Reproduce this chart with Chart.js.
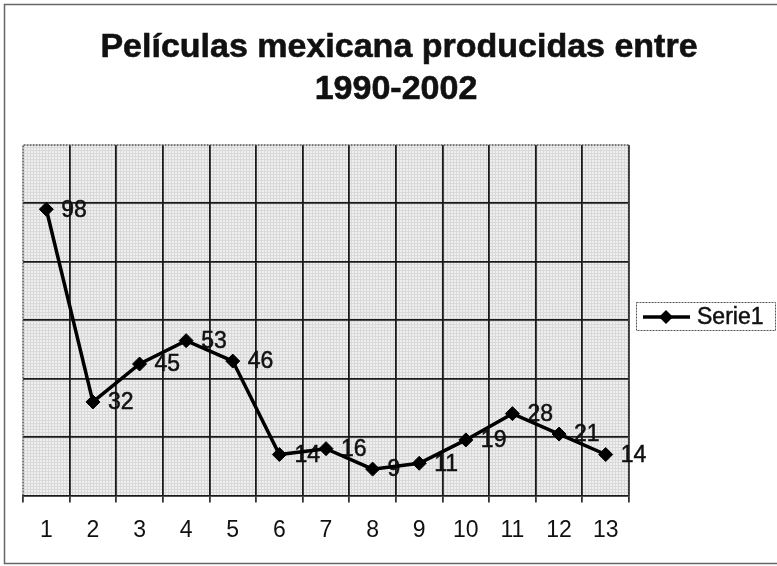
<!DOCTYPE html>
<html>
<head>
<meta charset="utf-8">
<script src="https://cdn.jsdelivr.net/npm/chart.js@4.4.1/dist/chart.umd.min.js"></script>
<style>
  html, body { margin: 0; padding: 0; background: #fff; }
  canvas { display: block; }
</style>
</head>
<body>
<canvas id="c" width="777" height="566"></canvas>
<script>
// Chart content
const titleLines = ['Películas mexicana producidas entre', '1990-2002'];
const categories = ['1', '2', '3', '4', '5', '6', '7', '8', '9', '10', '11', '12', '13'];
const seriesName = 'Serie1';
const seriesValues = [98, 32, 45, 53, 46, 14, 16, 9, 11, 19, 28, 21, 14];
const yMin = 0;
const yMax = 120;
const yStep = 20;

const FONT = "'Liberation Sans', Arial, sans-serif";

// Fine gray texture for the plotting area
function makePattern(ctx) {
  const tile = document.createElement('canvas');
  tile.width = 3; tile.height = 3;
  const t = tile.getContext('2d');
  t.fillStyle = '#efefef';
  t.fillRect(0, 0, 3, 3);
  t.fillStyle = '#d9d9d9';
  t.fillRect(0, 0, 3, 1);
  t.fillRect(0, 0, 1, 3);
  return ctx.createPattern(tile, 'repeat');
}

const backgroundPlugin = {
  id: 'plotBackground',
  beforeDraw(chart) {
    const { ctx, chartArea: a } = chart;
    ctx.save();
    ctx.fillStyle = '#ffffff';
    ctx.fillRect(0, 0, chart.width, chart.height);
    ctx.fillStyle = makePattern(ctx);
    ctx.fillRect(a.left, a.top, a.right - a.left, a.bottom - a.top);
    ctx.restore();
  },
  beforeDatasetsDraw(chart) {
    const { ctx, chartArea: a } = chart;
    // dotted frame round the plotting area
    ctx.save();
    ctx.strokeStyle = '#555';
    ctx.lineWidth = 1.5;
    ctx.setLineDash([2, 1]);
    ctx.beginPath();
    ctx.moveTo(a.left, a.bottom);
    ctx.lineTo(a.left, a.top);
    ctx.lineTo(a.right, a.top);
    ctx.lineTo(a.right, a.bottom);
    ctx.stroke();
    ctx.restore();
  }
};

// Value labels sit to the right of each marker, under the line
const valueLabelPlugin = {
  id: 'valueLabels',
  beforeDatasetsDraw(chart) {
    const { ctx } = chart;
    ctx.save();
    ctx.font = '23px ' + FONT;
    ctx.fillStyle = '#111';
    ctx.strokeStyle = '#111';
    ctx.lineWidth = 0.5;
    ctx.textAlign = 'left';
    ctx.textBaseline = 'middle';
    chart.data.datasets.forEach((ds, di) => {
      const meta = chart.getDatasetMeta(di);
      meta.data.forEach((pt, i) => {
        const s = String(ds.data[i]);
        ctx.fillText(s, pt.x + 15, pt.y + 1);
        ctx.strokeText(s, pt.x + 15, pt.y + 1);
      });
    });
    ctx.restore();
  }
};

// Title, legend box and outer frame
const decorPlugin = {
  id: 'decor',
  afterDraw(chart) {
    const { ctx } = chart;
    ctx.save();
    // outer frame
    ctx.strokeStyle = '#666';
    ctx.lineWidth = 1.5;
    ctx.beginPath();
    ctx.moveTo(790, 4.5);
    ctx.lineTo(4.5, 4.5);
    ctx.lineTo(4.5, 563.5);
    ctx.lineTo(790, 563.5);
    ctx.stroke();

    // title
    ctx.fillStyle = '#111';
    ctx.strokeStyle = '#111';
    ctx.lineWidth = 0.6;
    ctx.font = 'bold 34px ' + FONT;
    ctx.textAlign = 'center';
    ctx.textBaseline = 'alphabetic';
    ctx.fillText(titleLines[0], 399, 57);
    ctx.strokeText(titleLines[0], 399, 57);
    ctx.fillText(titleLines[1], 396, 99);
    ctx.strokeText(titleLines[1], 396, 99);

    // legend
    const ds = chart.data.datasets[0];
    const lx = 636, ly = 302, lw = 139, lh = 28;
    ctx.fillStyle = '#fff';
    ctx.fillRect(lx, ly, lw, lh);
    ctx.strokeStyle = '#555';
    ctx.lineWidth = 1;
    ctx.setLineDash([2, 1]);
    ctx.strokeRect(lx + 0.5, ly + 0.5, lw, lh);
    ctx.setLineDash([]);
    const cy = ly + lh / 2 + 1;
    ctx.strokeStyle = ds.borderColor;
    ctx.lineWidth = ds.borderWidth;
    ctx.beginPath();
    ctx.moveTo(643, cy);
    ctx.lineTo(690, cy);
    ctx.stroke();
    ctx.fillStyle = ds.pointBackgroundColor;
    const r = ds.pointRadius;
    ctx.beginPath();
    ctx.moveTo(666, cy - r);
    ctx.lineTo(666 + r, cy);
    ctx.lineTo(666, cy + r);
    ctx.lineTo(666 - r, cy);
    ctx.closePath();
    ctx.fill();
    ctx.fillStyle = '#111';
    ctx.strokeStyle = '#111';
    ctx.lineWidth = 0.5;
    ctx.font = '23px ' + FONT;
    ctx.textAlign = 'left';
    ctx.textBaseline = 'middle';
    ctx.fillText(ds.label, 697, cy + 1);
    ctx.strokeText(ds.label, 697, cy + 1);
    ctx.restore();
  }
};

new Chart(document.getElementById('c'), {
  type: 'line',
  data: {
    labels: categories,
    datasets: [{
      label: seriesName,
      data: seriesValues,
      borderColor: '#000',
      borderWidth: 3.5,
      pointStyle: 'rectRot',
      pointRadius: 7,
      pointBackgroundColor: '#000',
      pointBorderColor: '#000',
      pointBorderWidth: 1,
      tension: 0,
      fill: false
    }]
  },
  options: {
    responsive: false,
    animation: false,
    devicePixelRatio: 1,
    layout: { padding: { left: 23, right: 148, top: 145, bottom: 8 } },
    plugins: {
      legend: { display: false },
      title: { display: false },
      tooltip: { enabled: false }
    },
    scales: {
      x: {
        offset: true,
        grid: {
          offset: true,
          color: (c) => (c.index === 0 || c.index === categories.length) ? 'rgba(0,0,0,0)' : '#1a1a1a',
          tickColor: '#333',
          lineWidth: 1.8,
          tickLength: 7
        },
        border: { color: '#1a1a1a', width: 1.8 },
        ticks: {
          color: '#111',
          font: { family: FONT, size: 23 },
          padding: 14,
          maxRotation: 0
        }
      },
      y: {
        min: yMin,
        max: yMax,
        ticks: { display: false, stepSize: yStep },
        grid: {
          drawTicks: false,
          color: (c) => c.tick.value === yMax || c.tick.value === yMin ? 'rgba(0,0,0,0)' : '#1a1a1a',
          lineWidth: 1.8
        },
        border: { display: false }
      }
    }
  },
  plugins: [backgroundPlugin, valueLabelPlugin, decorPlugin]
});
</script>
</body>
</html>
